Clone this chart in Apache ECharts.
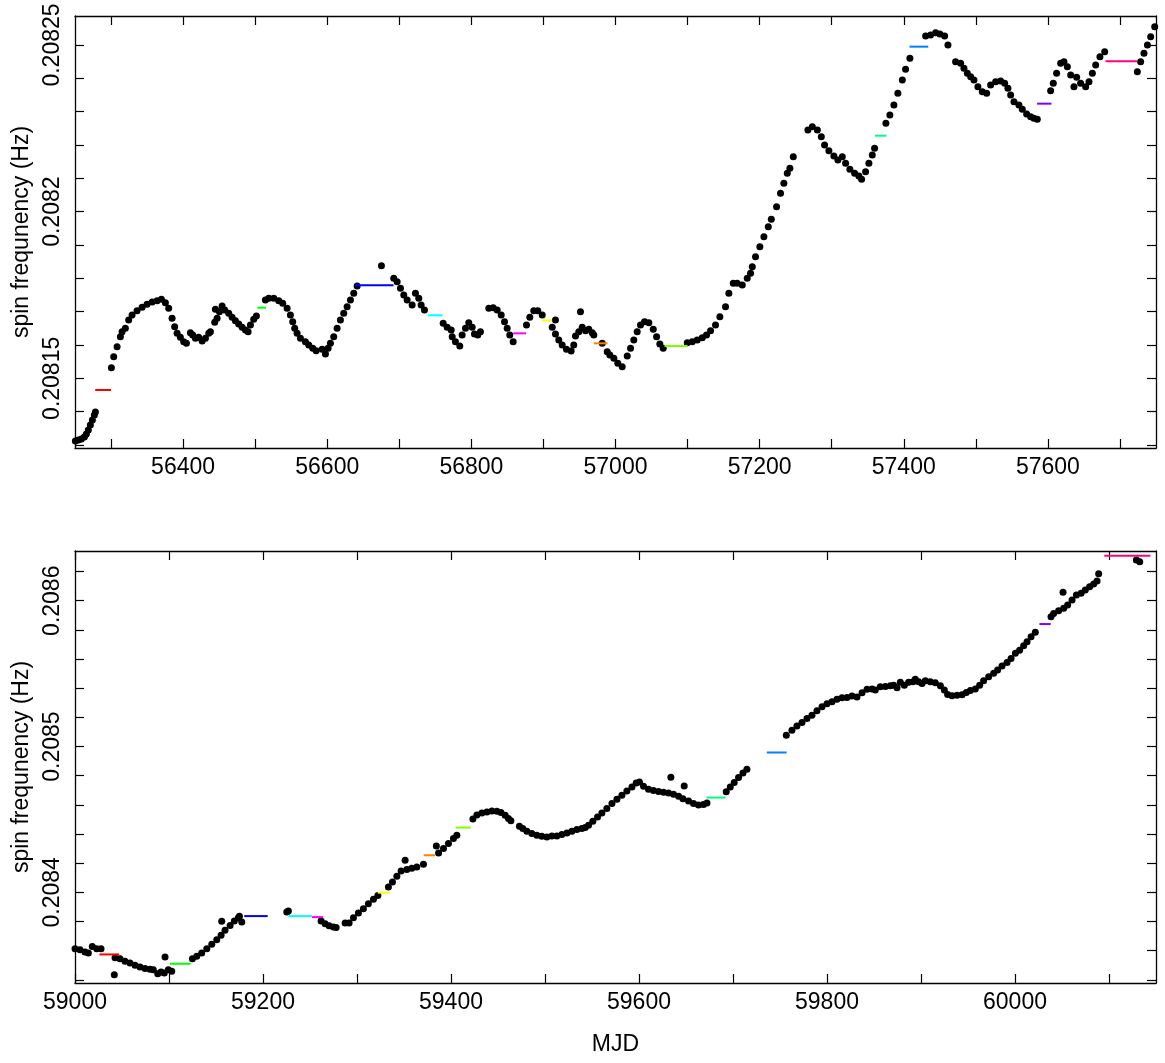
<!DOCTYPE html>
<html>
<head>
<meta charset="utf-8">
<script src="https://cdn.jsdelivr.net/npm/echarts@6/dist/echarts.min.js"></script>
<style>
html,body{margin:0;padding:0;background:#fff;}
#chart{width:1165px;height:1063px;}
</style>
</head>
<body>
<div id="chart"></div>
<script>
// ---------- DATA ----------
// Top panel (MJD 56250-57750)
var topMJD = [56250.5,56254.7,56258.8,56263.0,56265.8,56268.5,56271.3,56274.1,56276.9,56278.3,
56300.5,56303.7,56308.4,56313.0,56315.3,56319.9,56324.5,56329.2,56336.1,56343.1,56350.0,56357.0,56363.9,56369.9,56375.4,56380.0,56384.7,56388.3,56391.7,56396.2,56400.8,56404.6,
56410.1,56413.3,56417.1,56421.6,56426.4,56431.0,56435.6,56437.9,56443.9,56447.2,56444.8,56450.4,56454.1,56457.7,56463.3,56468.0,56472.6,56477.2,56481.9,56486.5,56490.2,56493.4,56498.0,56501.7,
56514.2,56518.8,56525.8,56532.7,56538.2,56544.3,56548.9,56552.1,56554.9,56558.2,56562.8,56569.7,56574.3,56579.9,56584.6,
56592.9,56597.5,56601.2,56604.4,56609.0,56613.7,56618.3,56622.9,56627.6,56632.2,56636.8,56641.5,
56675.2,56692.3,56697.0,56701.6,56706.2,56710.9,56717.8,56722.4,56727.0,56730.3,56734.9,
56760.9,56766.4,56772.0,56773.4,56777.9,56783.9,56787.2,56791.8,56796.4,56801.1,56804.3,56808.9,56812.6,
56824.2,56830.3,56835.8,56841.4,56846.0,56849.7,56853.3,56858.0,
56876.5,56881.1,56886.6,56892.2,56898.3,
56916.7,56912.2,56916.7,56921.3,56926.0,56932.0,56938.5,56942.1,56944.5,56949.1,56951.4,56953.8,56958.4,56963.0,56967.7,56969.9,
56981.6,56988.5,56992.1,56997.7,57003.2,57009.3,
57016.3,57020.9,57025.4,57030.1,57034.7,57040.3,57046.3,57052.4,57057.0,57061.5,57066.2,
57099.6,57106.5,57113.4,57120.4,57126.3,57131.9,57138.8,57144.8,57152.7,57157.3,57163.4,57168.9,57175.9,57182.8,57187.4,57189.8,57194.3,57200.3,57205.9,57212.0,57216.2,57223.5,57229.0,57233.6,57238.4,57242.0,57246.7,
57267.0,57273.1,57280.1,57285.6,57290.1,57296.1,57303.0,57308.6,57314.7,57319.3,57325.2,57331.8,57337.7,57341.5,57347.0,57351.6,57356.3,57359.5,
57375.2,57380.7,57386.3,57391.8,57398.0,57402.5,57408.5,
57430.3,57437.2,57444.2,57450.1,57456.7,57461.3,
57471.9,57478.9,57483.5,57488.2,57492.8,57497.4,57502.9,57509.0,57515.0,57520.5,57527.5,57534.4,57540.0,57544.5,57548.3,57552.9,57559.8,57564.5,57570.5,57576.0,57580.6,57585.3,
57603.8,57607.5,57612.1,57617.7,57622.3,57627.0,57631.6,57636.2,57639.9,57645.4,57652.4,57657.0,57661.7,57666.3,57672.2,57678.8,
57724.1,57728.7,57733.3,57738.1,57742.6,57748.2];
var topFreq = [0.2081312,0.2081315,0.2081318,0.2081324,0.2081333,0.2081345,0.2081360,0.2081375,0.2081390,0.2081399,
0.2081532,0.2081565,0.2081595,0.2081625,0.2081640,0.2081650,0.2081675,0.2081690,0.2081703,0.2081713,0.2081722,0.2081729,0.2081733,0.2081737,0.2081727,0.2081710,0.2081680,0.2081655,0.2081635,0.2081623,0.2081610,0.2081605,
0.2081637,0.2081630,0.2081620,0.2081623,0.2081612,0.2081620,0.2081635,0.2081640,0.2081668,0.2081680,0.2081707,0.2081700,0.2081717,0.2081705,0.2081695,0.2081683,0.2081673,0.2081663,0.2081653,0.2081645,0.2081640,0.2081660,0.2081677,0.2081687,
0.2081735,0.2081740,0.2081740,0.2081733,0.2081725,0.2081710,0.2081690,0.2081670,0.2081650,0.2081635,0.2081620,0.2081610,0.2081600,0.2081590,0.2081583,
0.2081587,0.2081573,0.2081590,0.2081605,0.2081625,0.2081650,0.2081675,0.2081695,0.2081715,0.2081735,0.2081755,0.2081777,
0.2081838,0.2081800,0.2081790,0.2081770,0.2081750,0.2081735,0.2081720,0.2081755,0.2081740,0.2081720,0.2081705,
0.2081665,0.2081653,0.2081645,0.2081625,0.2081610,0.2081597,0.2081630,0.2081650,0.2081667,0.2081653,0.2081633,0.2081630,0.2081640,
0.2081710,0.2081712,0.2081705,0.2081690,0.2081670,0.2081650,0.2081630,0.2081610,
0.2081660,0.2081683,0.2081703,0.2081703,0.2081690,
0.2081675,0.2081653,0.2081633,0.2081615,0.2081600,0.2081587,0.2081582,0.2081600,0.2081627,0.2081640,0.2081700,0.2081653,0.2081643,0.2081647,0.2081637,0.2081630,
0.2081605,0.2081580,0.2081570,0.2081560,0.2081545,0.2081535,
0.2081567,0.2081590,0.2081615,0.2081640,0.2081660,0.2081670,0.2081667,0.2081647,0.2081625,0.2081603,0.2081590,
0.2081607,0.2081610,0.2081615,0.2081622,0.2081630,0.2081643,0.2081660,0.2081685,0.2081715,0.2081755,0.2081785,0.2081785,0.2081780,0.2081800,0.2081815,0.2081835,0.2081865,0.2081895,0.2081925,0.2081955,0.2081977,0.2082015,0.2082055,0.2082085,0.2082115,0.2082130,0.2082165,
0.2082245,0.2082255,0.2082245,0.2082225,0.2082200,0.2082183,0.2082167,0.2082155,0.2082165,0.2082145,0.2082127,0.2082115,0.2082107,0.2082097,0.2082120,0.2082145,0.2082170,0.2082190,
0.2082265,0.2082290,0.2082320,0.2082355,0.2082395,0.2082427,0.2082460,
0.2082527,0.2082530,0.2082537,0.2082533,0.2082527,0.2082500,
0.2082450,0.2082445,0.2082430,0.2082415,0.2082405,0.2082395,0.2082375,0.2082360,0.2082355,0.2082380,0.2082390,0.2082392,0.2082385,0.2082370,0.2082350,0.2082330,0.2082320,0.2082307,0.2082293,0.2082285,0.2082280,0.2082277,
0.2082363,0.2082385,0.2082415,0.2082445,0.2082450,0.2082435,0.2082410,0.2082375,0.2082403,0.2082385,0.2082375,0.2082390,0.2082415,0.2082440,0.2082465,0.2082480,
0.2082420,0.2082450,0.2082475,0.2082500,0.2082525,0.2082555];

// Bottom panel (MJD 59000-60150)
var botMJD = [59000.0,59005.3,59010.6,59014.2,59018.4,59023.1,59027.7,59041.8,59042.6,59047.9,59053.2,59058.5,59063.9,59069.2,59074.5,59079.8,59083.3,59088.0,59091.5,59095.0,59095.8,59099.3,59102.9,
59124.9,59129.5,59134.8,59140.2,59145.5,59150.8,59155.4,59156.1,59159.6,59165.0,59169.5,59173.8,59174.9,59177.4,
59225.3,59227.0,59261.8,59266.1,59270.3,59274.9,59277.8,
59287.4,59291.6,59296.2,59301.5,59306.8,59312.1,59317.5,59322.2,
59333.4,59337.7,59342.4,59346.9,59351.2,59353.0,59358.3,59363.6,59370.7,
59384.4,59386.8,59392.0,59397.3,59402.6,59406.2,
59423.3,59427.5,59432.8,59438.2,59443.5,59448.8,59453.1,59457.6,59461.1,59463.7,
59472.8,59476.4,59480.7,59486.0,59491.3,59496.6,59502.0,59507.3,59512.6,59517.9,59523.3,59528.6,59533.9,59539.2,59542.8,59546.3,59550.9,59555.9,59560.5,59565.8,59571.2,59576.5,59581.8,59587.1,59592.5,59597.0,59600.5,
59604.8,59610.1,59615.4,59620.8,59626.1,59631.4,59633.9,59636.7,59642.1,59646.7,59648.1,59652.7,59658.0,59663.3,59668.6,59672.3,
59692.8,59697.1,59701.3,59705.9,59710.6,59714.8,
59756.7,59762.7,59768.0,59773.4,59778.7,59784.0,59789.3,59794.7,59800.0,59805.3,59810.6,59816.0,59821.3,59826.6,59831.9,59837.3,59842.6,59847.9,59851.4,59856.7,59862.1,59867.4,59870.9,59874.5,59878.0,59882.3,59886.8,59891.5,59893.9,59897.5,59901.1,59904.6,59909.9,59915.2,59920.6,59924.8,59928.3,59933.0,59938.3,59943.7,59948.2,59952.5,59957.8,59962.4,59966.6,59972.0,59977.3,59981.5,59986.2,59991.5,59995.8,60000.4,60004.9,60009.2,60012.8,60017.1,60021.6,
60038.3,60041.1,60046.4,60051.1,60051.8,60056.0,60060.7,60065.3,60070.3,60074.8,60079.4,60083.7,60087.3,60089.0,
60129.1,60132.7];
var botFreq = [0.2083613,0.2083606,0.2083590,0.2083583,0.2083629,0.2083613,0.2083613,0.2083435,0.2083552,0.2083545,0.2083528,0.2083515,0.2083499,0.2083487,0.2083478,0.2083473,0.2083469,0.2083442,0.2083453,0.2083446,0.2083556,0.2083469,0.2083458,
0.2083545,0.2083561,0.2083583,0.2083613,0.2083643,0.2083675,0.2083705,0.2083801,0.2083739,0.2083773,0.2083803,0.2083826,0.2083835,0.2083796,
0.2083865,0.2083872,0.2083803,0.2083785,0.2083771,0.2083762,0.2083758,
0.2083789,0.2083789,0.2083826,0.2083858,0.2083888,0.2083922,0.2083952,0.2083979,
0.2084036,0.2084071,0.2084110,0.2084146,0.2084220,0.2084156,0.2084165,0.2084174,0.2084192,
0.2084318,0.2084270,0.2084300,0.2084334,0.2084369,0.2084391,
0.2084503,0.2084531,0.2084544,0.2084551,0.2084558,0.2084556,0.2084547,0.2084529,0.2084506,0.2084490,
0.2084453,0.2084437,0.2084419,0.2084403,0.2084391,0.2084384,0.2084380,0.2084387,0.2084387,0.2084396,0.2084407,0.2084419,0.2084430,0.2084437,0.2084444,0.2084460,0.2084487,0.2084517,0.2084544,0.2084575,0.2084609,0.2084638,0.2084666,0.2084695,0.2084723,0.2084750,0.2084757,
0.2084728,0.2084707,0.2084698,0.2084691,0.2084686,0.2084682,0.2084790,0.2084673,0.2084659,0.2084641,0.2084730,0.2084627,0.2084609,0.2084599,0.2084602,0.2084613,
0.2084689,0.2084723,0.2084753,0.2084787,0.2084819,0.2084844,
0.2085078,0.2085112,0.2085140,0.2085165,0.2085193,0.2085215,0.2085245,0.2085272,0.2085293,0.2085307,0.2085325,0.2085334,0.2085337,0.2085346,0.2085339,0.2085368,0.2085392,0.2085394,0.2085387,0.2085410,0.2085412,0.2085416,0.2085421,0.2085403,0.2085440,0.2085421,0.2085440,0.2085444,0.2085462,0.2085444,0.2085433,0.2085451,0.2085444,0.2085437,0.2085416,0.2085387,0.2085357,0.2085348,0.2085351,0.2085355,0.2085371,0.2085385,0.2085394,0.2085421,0.2085451,0.2085478,0.2085502,0.2085524,0.2085552,0.2085577,0.2085604,0.2085639,0.2085661,0.2085691,0.2085718,0.2085753,0.2085783,
0.2085890,0.2085913,0.2085931,0.2086058,0.2085948,0.2085970,0.2086005,0.2086039,0.2086051,0.2086073,0.2086096,0.2086115,0.2086135,0.2086185,
0.2086279,0.2086268];

// Coloured horizontal segments: start MJD, end MJD, frequency
var segColors = ['#ff0000','#00ff00','#0000ff','#00ffff','#ff00ff','#ffff00','#ff8000','#80ff00','#00ff80','#0080ff','#8000ff','#ff0080'];
var topSegStart = [56278,56503,56638,56740,56858,56898,56970,57068,57360,57408,57585,57680];
var topSegEnd   = [56300,56515,56692,56760,56876,56912,56989,57100,57376,57434,57605,57724];
var topSegFreq  = [0.2081465,0.2081712,0.2081779,0.2081689,0.2081635,0.2081674,0.2081605,0.2081597,0.2082228,0.2082495,0.2082324,0.2082451];
var botSegStart = [59026,59101,59180,59227,59252,59322,59371,59405,59672,59736,60026,60095];
var botSegEnd   = [59047,59123,59205,59252,59264,59335,59383,59421,59692,59757,60038,60144];
var botSegFreq  = [0.2083574,0.2083510,0.2083837,0.2083837,0.2083830,0.2083998,0.2084254,0.2084444,0.2084650,0.2084959,0.2085840,0.2086309];

// Axis ticks / labels
var topXTicks  = [56300,56400,56500,56600,56700,56800,56900,57000,57100,57200,57300,57400,57500,57600,57700];
var topXLabels = [56400,56600,56800,57000,57200,57400,57600];
var topYTicks  = [0.20813,0.20814,0.20815,0.20816,0.20817,0.20818,0.20819,0.2082,0.20821,0.20822,0.20823,0.20824,0.20825];
var topYLabels = [0.20815,0.2082,0.20825];
var botXTicks  = [59000,59100,59200,59300,59400,59500,59600,59700,59800,59900,60000,60100];
var botXLabels = [59000,59200,59400,59600,59800,60000];
var botYTicks  = [0.20834,0.20836,0.20838,0.2084,0.20842,0.20844,0.20846,0.20848,0.2085,0.20852,0.20854,0.20856,0.20858,0.2086,0.20862];
var botYLabels = [0.2084,0.2085,0.2086];

// ---------- CHART ----------
var FONT = 'Liberation Sans, Arial, Helvetica, sans-serif';
function pairs(xs, ys){ var o=[]; for(var i=0;i<xs.length;i++) o.push([xs[i], ys[i]]); return o; }

function xAx(grid, min, max, ticks, labels, pos, name){
  return {
    type:'value', gridIndex:grid, min:min, max:max, position:pos,
    name: name || '', nameLocation:'middle', nameGap:50,
    nameTextStyle:{fontFamily:FONT, fontSize:23, color:'#000'},
    axisLine:{show:true, onZero:false, lineStyle:{color:'#000', width:1.3}},
    axisTick:{show:true, inside:true, length:9, customValues:ticks, lineStyle:{color:'#000', width:1.2}},
    axisLabel:{show: pos==='bottom', customValues:labels, fontFamily:FONT, fontSize:23, color:'#000', margin:8,
               formatter:function(v){return String(v);}},
    splitLine:{show:false}
  };
}
function yAx(grid, min, max, ticks, labels, pos, name){
  return {
    type:'value', gridIndex:grid, min:min, max:max, position:pos,
    name: name || '', nameLocation:'middle', nameGap:41,
    nameTextStyle:{fontFamily:FONT, fontSize:23, color:'#000'},
    axisLine:{show:true, onZero:false, lineStyle:{color:'#000', width:1.3}},
    axisTick:{show:true, inside:true, length:9, customValues:ticks, lineStyle:{color:'#000', width:1.2}},
    axisLabel:{show: pos==='left', customValues:labels, rotate:90, fontFamily:FONT, fontSize:23, color:'#000', margin:11,
               formatter:function(v){return String(parseFloat(v.toPrecision(6)));}},
    splitLine:{show:false}
  };
}

var series = [];
series.push({type:'scatter', xAxisIndex:0, yAxisIndex:0, data:pairs(topMJD, topFreq), symbol:'circle', symbolSize:7, itemStyle:{color:'#000', opacity:1}, z:2});
series.push({type:'scatter', xAxisIndex:2, yAxisIndex:2, data:pairs(botMJD, botFreq), symbol:'circle', symbolSize:7, itemStyle:{color:'#000', opacity:1}, z:2});
for (var i=0;i<segColors.length;i++){
  series.push({type:'line', xAxisIndex:0, yAxisIndex:0, data:[[topSegStart[i], topSegFreq[i]],[topSegEnd[i], topSegFreq[i]]],
    symbol:'none', lineStyle:{color:segColors[i], width:2}, z:3});
  series.push({type:'line', xAxisIndex:2, yAxisIndex:2, data:[[botSegStart[i], botSegFreq[i]],[botSegEnd[i], botSegFreq[i]]],
    symbol:'none', lineStyle:{color:segColors[i], width:2}, z:3});
}

var chart = echarts.init(document.getElementById('chart'), null, {renderer:'canvas'});
chart.setOption({
  animation:false,
  backgroundColor:'#fff',
  grid:[
    {left:75, top:16, right:9, height:432, containLabel:false},
    {left:75, top:551, right:9, height:432, containLabel:false}
  ],
  xAxis:[
    xAx(0, 56250, 57750, topXTicks, topXLabels, 'bottom'),
    xAx(0, 56250, 57750, topXTicks, topXLabels, 'top'),
    xAx(1, 59000, 60150, botXTicks, botXLabels, 'bottom', 'MJD'),
    xAx(1, 59000, 60150, botXTicks, botXLabels, 'top')
  ],
  yAxis:[
    yAx(0, 0.2081291, 0.2082587, topYTicks, topYLabels, 'left', 'spin frequnency (Hz)'),
    yAx(0, 0.2081291, 0.2082587, topYTicks, topYLabels, 'right'),
    yAx(1, 0.2083378, 0.2086341, botYTicks, botYLabels, 'left', 'spin frequnency (Hz)'),
    yAx(1, 0.2083378, 0.2086341, botYTicks, botYLabels, 'right')
  ],
  series:series
});
</script>
</body>
</html>
